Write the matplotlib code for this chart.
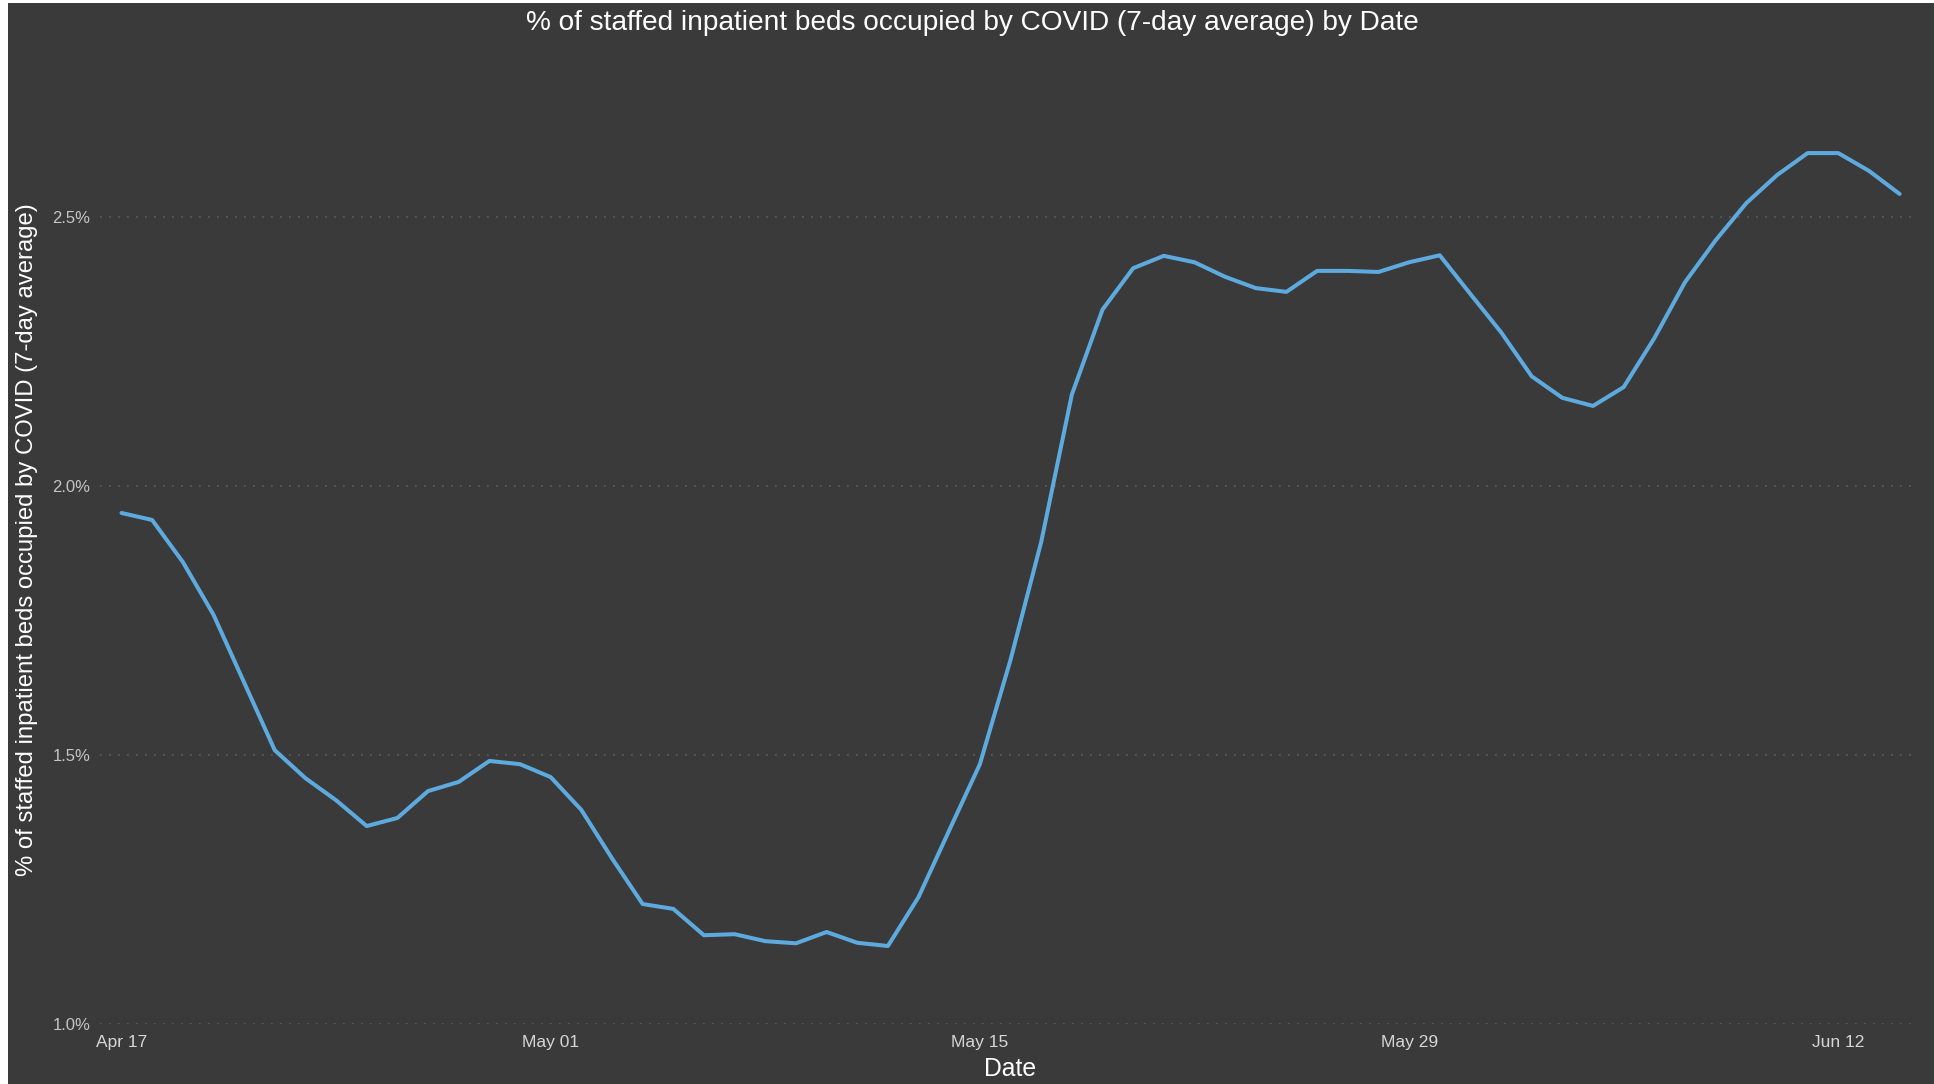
import numpy as np
import pandas as pd
import matplotlib
matplotlib.use("Agg")
import matplotlib.pyplot as plt
import matplotlib.dates as mdates
from matplotlib import font_manager
from matplotlib.patches import Rectangle

# data (one value per day, Apr 17 -> Jun 14)
start_date = "2022-04-17"
pct_beds_covid = [
    1.950, 1.937, 1.859, 1.761, 1.635, 1.509, 1.457, 1.416, 1.368, 1.383,
    1.433, 1.450, 1.489, 1.483, 1.459, 1.398, 1.308, 1.223, 1.214, 1.165,
    1.167, 1.154, 1.150, 1.171, 1.151, 1.145, 1.236, 1.360, 1.483, 1.677,
    1.896, 2.170, 2.328, 2.405, 2.428, 2.416, 2.389, 2.368, 2.361, 2.400,
    2.400, 2.398, 2.416, 2.429, 2.357, 2.286, 2.204, 2.164, 2.149, 2.184,
    2.275, 2.379, 2.457, 2.526, 2.578, 2.619, 2.619, 2.586, 2.543,
]
tick_dates = ["2022-04-17", "2022-05-01", "2022-05-15", "2022-05-29", "2022-06-12"]
y_ticks = [1.0, 1.5, 2.0, 2.5]

title = "% of staffed inpatient beds occupied by COVID (7-day average) by Date"
ylab = "% of staffed inpatient beds occupied by COVID (7-day average)"
xlab = "Date"

dates = pd.date_range(start_date, periods=len(pct_beds_covid), freq="D")

BG = "#3a3a3a"
W, H = 1934, 1084

names = {f.name for f in font_manager.fontManager.ttflist}
if "Liberation Sans Narrow" in names:
    head_font, title_size, date_size = "Liberation Sans Narrow", 24, 21
else:
    head_font, title_size, date_size = "Liberation Sans", 20.2, 17.8

plt.rcParams["font.family"] = ["Liberation Sans", "DejaVu Sans"]

fig = plt.figure(figsize=(W / 100, H / 100), dpi=100, facecolor=BG)
# thin white frame on the left and top of the screenshot
fig.patches.append(Rectangle((0, 0), 8 / W, 1, transform=fig.transFigure,
                             facecolor="white", edgecolor="none", zorder=10))
fig.patches.append(Rectangle((0, 1 - 3 / H), 1, 3 / H, transform=fig.transFigure,
                             facecolor="white", edgecolor="none", zorder=10))

ax_left, ax_right = 100, 1918
ax_bottom, ax_top = 1024, 3
ax = fig.add_axes([ax_left / W, (H - ax_bottom) / H,
                   (ax_right - ax_left) / W, (ax_bottom - ax_top) / H])
ax.set_facecolor(BG)

ax.plot(dates, pct_beds_covid, color="#5DAADF", lw=2.9,
        solid_joinstyle="round", solid_capstyle="round", zorder=3)

x0 = dates[0] - pd.Timedelta(hours=0.7 * 24)
x1 = dates[0] + pd.Timedelta(hours=58.6 * 24)
ax.set_xlim(x0, x1)
ax.set_ylim(1.0, 2.898)

ax.set_xticks(pd.to_datetime(tick_dates))
ax.xaxis.set_major_formatter(mdates.DateFormatter("%b %d"))
ax.set_yticks(y_ticks)
ax.set_yticklabels([f"{v:.1f}%" for v in y_ticks])

ax.tick_params(axis="both", length=0)
ax.tick_params(axis="x", pad=8, labelsize=12.5, labelcolor="#d6d6d6")
ax.tick_params(axis="y", pad=7, labelsize=12, labelcolor="#c4c4c4")

ax.grid(axis="y", color="#5e5e5e", lw=1.2, linestyle=(0, (1, 4.4)))
ax.grid(axis="x", visible=False)
for s in ax.spines.values():
    s.set_visible(False)

fig.text(972 / W, (H - 22.5) / H, title, ha="center", va="center",
         color="white", fontsize=title_size, family=[head_font, "DejaVu Sans"])
fig.text(1010 / W, (H - 1069) / H, xlab, ha="center", va="center",
         color="white", fontsize=date_size, family=[head_font, "DejaVu Sans"])
fig.text(27 / W, (H - 540) / H, ylab, ha="center", va="center", rotation=90,
         color="white", fontsize=17.2)

fig.savefig("out.png", dpi=100, facecolor=fig.get_facecolor())
